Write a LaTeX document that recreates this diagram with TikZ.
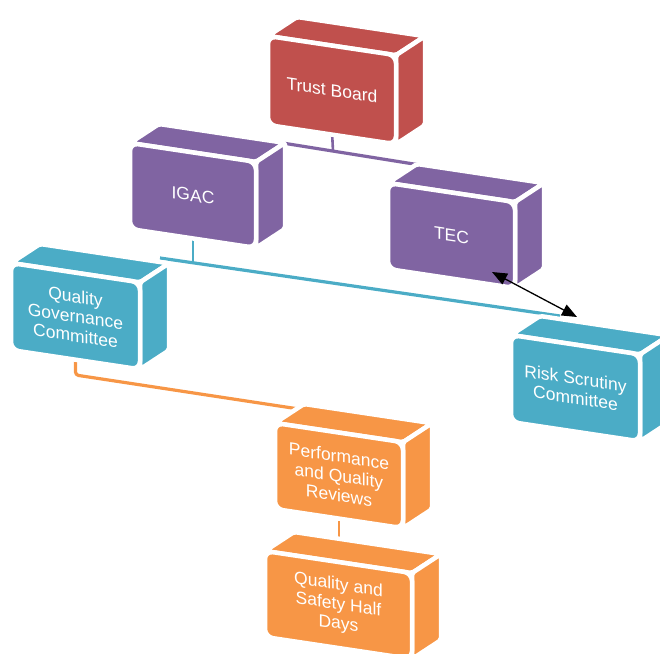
\documentclass[tikz,border=0pt]{standalone}
\usepackage{fontspec}
\setmainfont{Liberation Sans}
\usetikzlibrary{arrows.meta}
\definecolor{tbred}{HTML}{C0504D}
\definecolor{igpurple}{HTML}{8064A2}
\definecolor{qteal}{HTML}{4BACC6}
\definecolor{porange}{HTML}{F79646}
\tikzset{
  face/.style={fill=#1, draw=white, line width=4.5pt, line join=round},
  boxtext/.style={text=white, align=center, font=\fontsize{17.5pt}{19.5pt}\selectfont, transform shape, inner sep=0pt},
  conn/.style={draw=#1, line width=3.2pt},
  dblarrow/.style={{Triangle[length=15pt,width=12pt]}-{Triangle[length=15pt,width=12pt]}, line width=1.3pt, black}
}
% #1 name, #2 x, #3 y, #4 width, #5 height, #6 colour, #7 text
\newcommand\mybox[7]{%
  \begin{scope}[shift={(#2,#3)}, yslant=-0.15]
    \path[face=#6, rounded corners=2pt] (0,0) -- ++(29,-23.35) -- ++(#4,0) -- (#4,0) -- cycle;
    \path[face=#6, rounded corners=2pt] (#4,0) -- ++(29,-23.35) -- ++(0,#5) -- (#4,#5) -- cycle;
    \path[face=#6, rounded corners=8pt] (0,0) rectangle (#4,#5);
    \node[boxtext] (#1) at (#4/2,#5/2) {#7};
    \coordinate (#1-b) at (#4/2,#5-3);
  \end{scope}}
\begin{document}
\begin{tikzpicture}[x=1pt, y=-1pt]
  \useasboundingbox (0,0) rectangle (660,653);
  \clip (0,0) rectangle (660,653);
  % connector coordinates
  \coordinate (p1) at (270,141);
  \coordinate (p2) at (420,165);
  \coordinate (pj) at (333,151.1);
  \coordinate (t1) at (160,258);
  \coordinate (t2) at (560,316);
  \coordinate (tj) at (193,262.8);
  \coordinate (o1) at (75.5,375);
  \coordinate (o2) at (312,411);
  \coordinate (o3) at (339,545);
  \coordinate (a1) at (492,272);
  \coordinate (a2) at (577,317);
  % boxes (positions fixed first so their anchors exist)
  \begin{scope}[opacity=0]
    \mybox{tb0}{268}{36}{128}{89}{tbred}{}
    \mybox{igac0}{130}{143}{126}{86}{igpurple}{}
    \mybox{qgc0}{11}{263}{129}{87}{qteal}{}
    \mybox{pqr0}{275}{423}{128}{86}{porange}{}
  \end{scope}
  % connectors
  \draw[conn=igpurple] (p1) -- (p2);
  \draw[conn=igpurple, line width=2.6pt] (tb0-b) -- (pj);
  \draw[conn=qteal] (t1) -- (t2);
  \draw[conn=qteal, line width=2.8pt] (igac0-b) -- (tj);
  \draw[conn=porange, rounded corners=3pt] (qgc0-b) -- (o1) -- (o2);
  \draw[conn=porange, line width=2.6pt] (pqr0-b) -- (o3);
  % boxes
  \mybox{tb}{268}{36}{128}{89}{tbred}{Trust Board}
  \mybox{igac}{130}{143}{126}{86}{igpurple}{IGAC}
  \mybox{tec}{388}{183}{127}{86}{igpurple}{TEC}
  \mybox{qgc}{11}{263}{129}{87}{qteal}{Quality\\Governance\\Committee}
  \mybox{rsc}{511}{335}{129}{87}{qteal}{Risk Scrutiny\\Committee}
  \mybox{pqr}{275}{423}{128}{86}{porange}{Performance\\and Quality\\Reviews}
  \mybox{qshd}{265}{551}{147}{86}{porange}{Quality and\\Safety Half\\Days}
  % double arrow
  \draw[dblarrow] (a1) -- (a2);
\end{tikzpicture}
\end{document}
